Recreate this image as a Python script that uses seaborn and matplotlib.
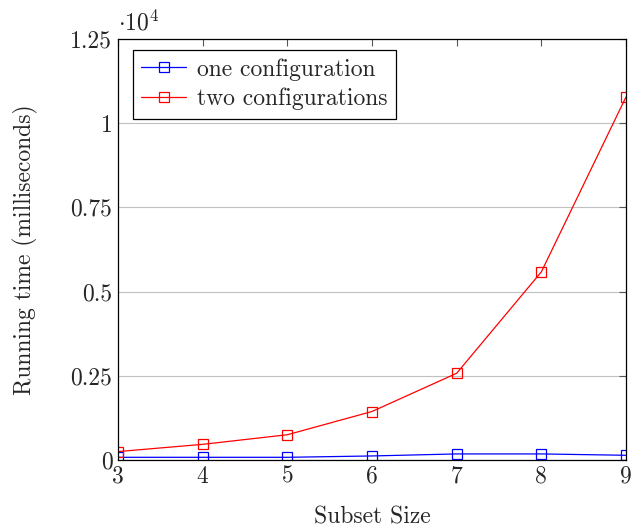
import matplotlib
matplotlib.use("Agg")
import matplotlib.pyplot as plt
import seaborn as sns
import pandas as pd

subset_size = [3, 4, 5, 6, 7, 8, 9]
one_config = [80, 80, 80, 120, 180, 180, 140]
two_config = [250, 465, 750, 1440, 2575, 5585, 10780]
y_ticks = [0, 2500, 5000, 7500, 10000, 12500]
y_tick_labels = ["0", "0.25", "0.5", "0.75", "1", "1.25"]

sns.set_style("white")
plt.rcParams["font.family"] = ["cmr10", "DejaVu Serif"]
plt.rcParams["mathtext.fontset"] = "cm"
plt.rcParams["axes.unicode_minus"] = False

FS = 17

df = pd.DataFrame({
    "size": subset_size * 2,
    "time": one_config + two_config,
    "series": ["one configuration"] * len(subset_size) + ["two configurations"] * len(subset_size),
})

fig = plt.figure(figsize=(6.42, 5.28), dpi=100)
ax = fig.add_axes([118 / 642, 68 / 528, 508 / 642, 421 / 528])

colors = {"one configuration": "#0000ff", "two configurations": "#ff0000"}
for name, grp in df.groupby("series", sort=False):
    sns.lineplot(data=grp, x="size", y="time", ax=ax, color=colors[name],
                 marker="s", markersize=7.5, mfc="none", mec=colors[name],
                 mew=0.9, linewidth=0.9, label=name)

ax.set_xlim(3, 9)
ax.set_ylim(0, 12500)
ax.set_xticks(subset_size)
ax.set_xticklabels([str(v) for v in subset_size])
ax.set_yticks(y_ticks)
ax.set_yticklabels(y_tick_labels)
ax.yaxis.grid(True, color="#c0c0c0", linewidth=0.8)
ax.xaxis.grid(False)
ax.set_axisbelow(True)

ax.tick_params(direction="in", length=5, width=0.8, color="#555555",
               top=True, right=True, labelsize=FS, pad=4)
for s in ax.spines.values():
    s.set_color("black")
    s.set_linewidth(0.9)

ax.set_xlabel("Subset Size", fontsize=FS, va="center")
ax.xaxis.set_label_coords(0.5, (460 - 517) / 421)
ax.set_ylabel("Running time (milliseconds)", fontsize=FS, va="center")
ax.yaxis.set_label_coords((25 - 118) / 508, 0.5)
ax.text(0.0, 1.008, r"$\cdot 10^{4}$", transform=ax.transAxes,
        fontsize=FS, ha="left", va="bottom")

leg = ax.legend(loc="upper left", bbox_to_anchor=(15 / 508, 410 / 421), fontsize=FS,
                frameon=True, fancybox=False, framealpha=1, edgecolor="black",
                borderpad=0.35, handlelength=1.9, handletextpad=0.47,
                labelspacing=0.3, borderaxespad=0)
leg.get_frame().set_linewidth(0.9)

fig.savefig("out.png", dpi=100)
